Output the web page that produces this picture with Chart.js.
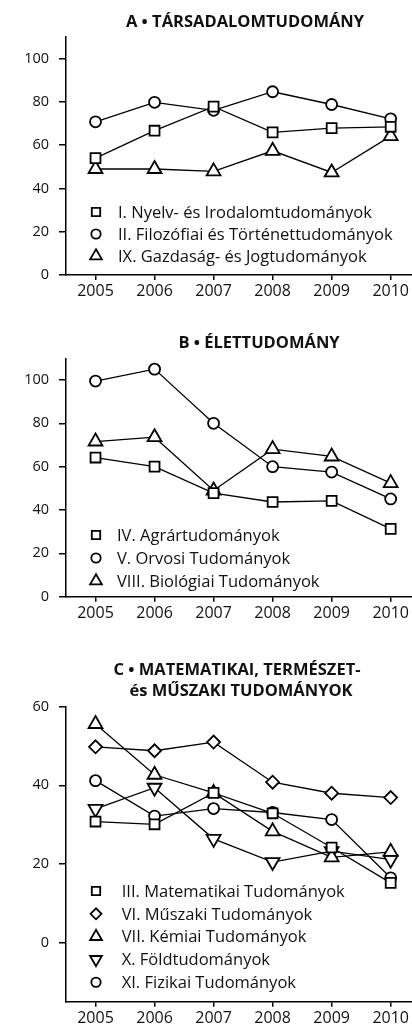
<!DOCTYPE html>
<html>
<head>
<meta charset="utf-8">
<script src="https://cdn.jsdelivr.net/npm/chart.js@4/dist/chart.umd.min.js"></script>
<style>
    html, body { margin: 0; padding: 0; background: #fff; overflow: hidden; width: 412px; height: 1029px; }
    .panel { position: absolute; left: 0; width: 430px; }
</style>
</head>
<body>
<div class="panel" style="top:0; height:310px;"><canvas id="chartA"></canvas></div>
<div class="panel" style="top:310px; height:320px;"><canvas id="chartB"></canvas></div>
<div class="panel" style="top:630px; height:399px;"><canvas id="chartC"></canvas></div>

<script>
// Données
const years = ['2005', '2006', '2007', '2008', '2009', '2010'];
const ticksAB = [0, 20, 40, 60, 80, 100];
const ticksC = [0, 20, 40, 60];

// A - Társadalomtudomány
const nyelv = [54, 66.7, 77.8, 65.9, 67.9, 68.5];
const filozofia = [70.8, 79.8, 76.1, 84.7, 78.8, 72.2];
const gazdasag = [49, 49, 47.9, 57.4, 47.4, 64.2];

// B - Élettudomány
const agrar = [64.2, 60, 47.8, 43.7, 44.2, 31.3];
const orvosi = [99.5, 105, 80, 60, 57.5, 45.1];
const biologia = [71.6, 73.6, 49, 68.1, 64.7, 52.4];

// C - Matematikai, természet- és műszaki tudományok
const matek = [30.8, 30.1, 38.1, 32.9, 24.2, 15.2];
const muszaki = [49.8, 48.8, 51, 40.8, 38, 36.9];
const kemia = [55.6, 42.7, 38.1, 28.3, 21.7, 23.1];
const fold = [34, 39.4, 26.4, 20.5, 23.3, 21.1];
const fizika = [41.2, 32.2, 34.1, 33.1, 31.3, 16.5];

const FONT = '"Open Sans", sans-serif';

// Styles des marqueurs
const markers = {
    square: { pointStyle: 'rect', pointRadius: 7, pointRotation: 0 },
    circle: { pointStyle: 'circle', pointRadius: 5.5, pointRotation: 0 },
    triangle: { pointStyle: 'triangle', pointRadius: 8, pointRotation: 0 },
    triangleDown: { pointStyle: 'triangle', pointRadius: 8, pointRotation: 180 },
    diamond: { pointStyle: 'rectRot', pointRadius: 6.5, pointRotation: 0 }
};

function makeDataset(label, data, marker) {
    return Object.assign({
        label: label,
        data: data,
        borderColor: '#000',
        borderWidth: 1.3,
        backgroundColor: '#fff',
        pointBackgroundColor: '#fff',
        pointBorderColor: '#000',
        pointBorderWidth: 1.8,
        tension: 0
    }, markers[marker]);
}

// Plugin : titre et légende dessinés dans la zone du graphique
const panelDeco = {
    id: 'panelDeco',
    afterDraw(chart, args, opts) {
        const ctx = chart.ctx;
        ctx.save();
        ctx.fillStyle = '#111';
        ctx.textBaseline = 'middle';
        ctx.textAlign = 'center';
        ctx.font = 'bold 16.5px ' + FONT;
        opts.title.forEach((line, i) => {
            ctx.fillText(line, opts.titleX[i], opts.titleY[i]);
        });

        ctx.textAlign = 'left';
        ctx.font = '16.5px ' + FONT;
        chart.data.datasets.forEach((ds, i) => {
            const y = opts.legendY + i * opts.legendStep;
            ctx.fillStyle = '#fff';
            ctx.strokeStyle = '#000';
            ctx.lineWidth = 1.8;
            Chart.helpers.drawPoint(ctx, {
                pointStyle: ds.pointStyle,
                rotation: ds.pointRotation,
                radius: ds.pointRadius * 0.85,
                borderWidth: 1.8
            }, opts.markerX, y);
            ctx.fillStyle = '#111';
            ctx.fillText(ds.label, opts.textX, y + 1);
        });
        ctx.restore();
    }
};

function makeChart(id, datasets, yMin, yMax, yTicks, padTop, xHeight, deco) {
    const ctx = document.getElementById(id).getContext('2d');
    return new Chart(ctx, {
        type: 'line',
        data: { labels: years, datasets: datasets },
        options: {
            responsive: true,
            maintainAspectRatio: false,
            animation: false,
            layout: { padding: { top: padTop, right: 6, left: 0, bottom: 0 } },
            plugins: {
                legend: { display: false },
                tooltip: { enabled: false },
                panelDeco: deco
            },
            scales: {
                x: {
                    type: 'category',
                    offset: true,
                    afterFit: s => { s.height = xHeight; },
                    grid: { drawOnChartArea: false, offset: false, tickLength: 5, color: '#000', lineWidth: 1.5 },
                    border: { color: '#000', width: 1.5 },
                    ticks: { color: '#111', font: { family: FONT, size: 16 }, padding: 2, maxRotation: 0, autoSkip: false }
                },
                y: {
                    min: yMin,
                    max: yMax,
                    afterBuildTicks: s => { s.ticks = yTicks.map(v => ({ value: v })); },
                    afterFit: s => { s.width = 66; },
                    grid: { drawOnChartArea: false, tickLength: 7, color: '#000', lineWidth: 1.5 },
                    border: { color: '#000', width: 1.5 },
                    ticks: { color: '#111', font: { family: FONT, size: 14.5 }, padding: 10 }
                }
            }
        },
        plugins: [panelDeco]
    });
}

// Graphique A
makeChart('chartA', [
    makeDataset('I. Nyelv- és Irodalomtudományok', nyelv, 'square'),
    makeDataset('II. Filozófiai és Történettudományok', filozofia, 'circle'),
    makeDataset('IX. Gazdaság- és Jogtudományok', gazdasag, 'triangle')
], 0, 110, ticksAB, 37, 35, {
    title: ['A • TÁRSADALOMTUDOMÁNY'], titleX: [245], titleY: [22],
    markerX: 96, textX: 118, legendY: 212, legendStep: 22
});

// Graphique B
makeChart('chartB', [
    makeDataset('IV. Agrártudományok', agrar, 'square'),
    makeDataset('V. Orvosi Tudományok', orvosi, 'circle'),
    makeDataset('VIII. Biológiai Tudományok', biologia, 'triangle')
], 0, 110, ticksAB, 48.3, 33.3, {
    title: ['B • ÉLETTUDOMÁNY'], titleX: [259], titleY: [33],
    markerX: 96, textX: 117, legendY: 225, legendStep: 23
});

// Graphique C
makeChart('chartC', [
    makeDataset('III. Matematikai Tudományok', matek, 'square'),
    makeDataset('VI. Műszaki Tudományok', muszaki, 'diamond'),
    makeDataset('VII. Kémiai Tudományok', kemia, 'triangle'),
    makeDataset('X. Földtudományok', fold, 'triangleDown'),
    makeDataset('XI. Fizikai Tudományok', fizika, 'circle')
], -15, 60, ticksC, 76.7, 27.3, {
    title: ['C • MATEMATIKAI, TERMÉSZET-', 'és MŰSZAKI TUDOMÁNYOK'], titleX: [237, 241], titleY: [40, 61],
    markerX: 96, textX: 121.7, legendY: 261, legendStep: 22.8
});
</script>
</body>
</html>
